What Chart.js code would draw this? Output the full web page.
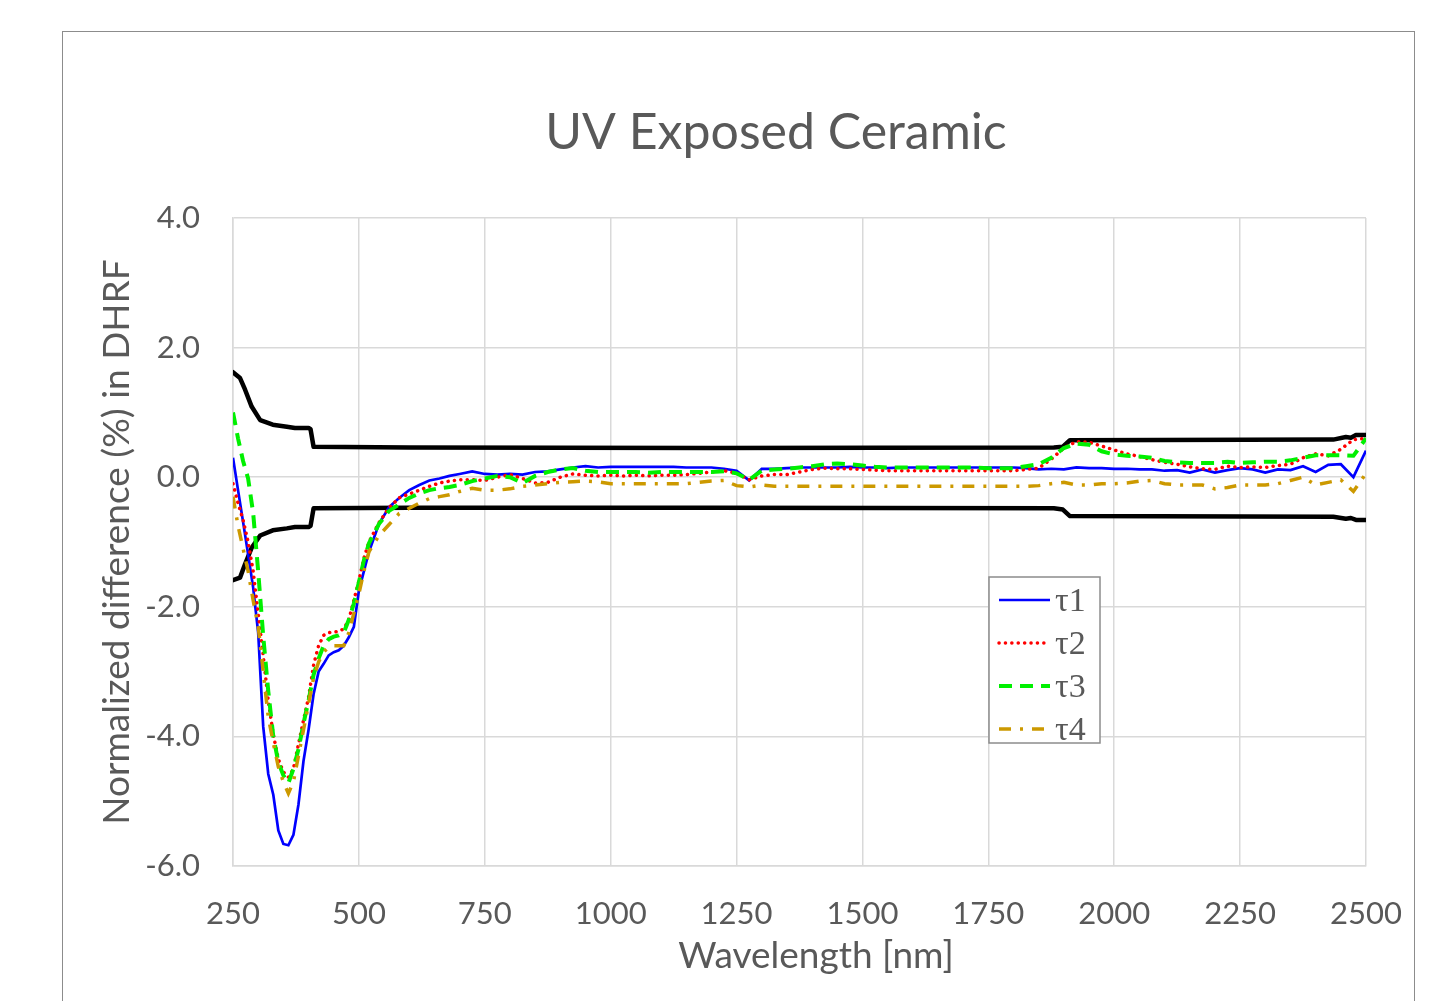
<!DOCTYPE html>
<html>
<head>
<meta charset="utf-8">
<script src="https://cdn.jsdelivr.net/npm/chart.js@4.4.1/dist/chart.umd.min.js"></script>
<style>
html, body { margin: 0; padding: 0; background: #fff; overflow: hidden; }
#frame { position: absolute; left: 62px; top: 31px; width: 1353px; height: 1010px; border: 1.5px solid #8c8c8c; box-sizing: border-box; }
#c { position: absolute; left: 0; top: 0; }
</style>
</head>
<body>
<div id="frame"></div>
<canvas id="c" width="1434" height="1001"></canvas>
<script>
// wavelengths (nm) shared by the four tau series
var wavelengths = [250, 260, 270, 280, 290, 300, 310, 320, 330, 340, 350, 360, 370, 380, 390, 400, 410, 420, 430, 440,
    450, 460, 470, 480, 490, 500, 510, 520, 540, 560, 580, 600, 620, 640, 660, 680, 700,
    725, 750, 775, 800, 825, 850, 875, 900, 925, 950, 975, 1000,
    1025, 1050, 1075, 1100, 1125, 1150, 1175, 1200, 1225, 1250, 1275, 1300,
    1325, 1350, 1375, 1400, 1425, 1450, 1475, 1500, 1525, 1550, 1575, 1600,
    1625, 1650, 1675, 1700, 1725, 1750, 1775, 1800, 1825, 1850, 1875, 1900,
    1925, 1950, 1975, 2000, 2025, 2050, 2075, 2100, 2125, 2150, 2175, 2200,
    2225, 2250, 2275, 2300, 2325, 2350, 2375, 2400, 2425, 2450, 2475, 2500];

var tau1 = [0.30, -0.2, -0.69, -1.19, -1.7, -2.4, -3.85, -4.58, -4.9, -5.45, -5.66, -5.68, -5.52, -5.05, -4.38, -3.9, -3.35, -3.0, -2.88, -2.75,
    -2.7, -2.67, -2.6, -2.47, -2.31, -1.75, -1.45, -1.15, -0.72, -0.46, -0.32, -0.2, -0.12, -0.05, -0.02, 0.02, 0.05,
    0.09, 0.05, 0.04, 0.05, 0.04, 0.08, 0.09, 0.12, 0.15, 0.17, 0.15, 0.16,
    0.16, 0.16, 0.16, 0.16, 0.16, 0.15, 0.15, 0.15, 0.13, 0.1, -0.05, 0.13,
    0.13, 0.14, 0.15, 0.15, 0.15, 0.15, 0.16, 0.15, 0.15, 0.14, 0.15, 0.15,
    0.15, 0.15, 0.15, 0.15, 0.15, 0.15, 0.15, 0.15, 0.14, 0.12, 0.13, 0.12,
    0.15, 0.14, 0.14, 0.13, 0.13, 0.12, 0.12, 0.1, 0.11, 0.07, 0.12, 0.07,
    0.11, 0.14, 0.12, 0.07, 0.12, 0.11, 0.17, 0.08, 0.19, 0.2, 0.0, 0.41];

var tau2 = [-0.1, -0.4, -0.66, -1.0, -1.45, -2.1, -2.75, -3.45, -3.97, -4.35, -4.55, -4.63, -4.5, -4.12, -3.75, -3.4, -2.9, -2.6, -2.44, -2.4,
    -2.39, -2.38, -2.34, -2.2, -1.9, -1.6, -1.25, -1.0, -0.7, -0.47, -0.32, -0.26, -0.2, -0.14, -0.09, -0.06, -0.04,
    -0.04, -0.05, 0.0, 0.04, -0.02, -0.09, -0.08, 0.0, 0.05, 0.03, 0.02, 0.03,
    0.02, 0.03, 0.02, 0.03, 0.03, 0.04, 0.06, 0.08, 0.1, 0.06, -0.04, 0.02,
    0.04, 0.04, 0.08, 0.12, 0.14, 0.13, 0.13, 0.12, 0.11, 0.1, 0.1, 0.1,
    0.1, 0.1, 0.1, 0.1, 0.1, 0.1, 0.1, 0.1, 0.12, 0.14, 0.28, 0.45,
    0.55, 0.54, 0.48, 0.42, 0.36, 0.32, 0.27, 0.23, 0.2, 0.16, 0.13, 0.12,
    0.17, 0.15, 0.16, 0.15, 0.18, 0.2, 0.3, 0.36, 0.33, 0.43, 0.58, 0.6];

var tau3 = [1.0, 0.6, 0.25, -0.02, -0.55, -1.45, -2.45, -3.3, -4.0, -4.4, -4.6, -4.72, -4.5, -4.2, -3.8, -3.45, -3.05, -2.8, -2.6, -2.5,
    -2.46, -2.44, -2.4, -2.2, -1.95, -1.62, -1.28, -1.02, -0.72, -0.52, -0.42, -0.32, -0.25, -0.2, -0.17, -0.15, -0.12,
    -0.06, -0.02, 0.02, 0.0, -0.09, 0.02, 0.08, 0.12, 0.14, 0.1, 0.08, 0.08,
    0.08, 0.08, 0.07, 0.08, 0.08, 0.08, 0.08, 0.08, 0.09, 0.06, -0.04, 0.1,
    0.12, 0.13, 0.15, 0.17, 0.2, 0.21, 0.2, 0.18, 0.16, 0.15, 0.15, 0.15,
    0.15, 0.15, 0.15, 0.15, 0.15, 0.14, 0.14, 0.14, 0.17, 0.2, 0.3, 0.45,
    0.52, 0.5, 0.4, 0.35, 0.33, 0.32, 0.3, 0.25, 0.23, 0.22, 0.22, 0.22,
    0.24, 0.22, 0.23, 0.24, 0.24, 0.26, 0.3, 0.34, 0.34, 0.34, 0.33, 0.6];

var tau4 = [-0.3, -0.75, -1.1, -1.45, -1.9, -2.3, -3.0, -3.7, -4.1, -4.47, -4.7, -4.88, -4.7, -4.3, -3.9, -3.5, -3.1, -2.85, -2.7, -2.62,
    -2.6, -2.6, -2.6, -2.4, -2.1, -1.8, -1.45, -1.15, -0.9, -0.73, -0.56, -0.48, -0.4, -0.33, -0.3, -0.27, -0.22,
    -0.17, -0.2, -0.2, -0.18, -0.14, -0.12, -0.1, -0.08, -0.07, -0.06, -0.07, -0.1,
    -0.1, -0.1, -0.1, -0.1, -0.1, -0.1, -0.08, -0.06, -0.05, -0.13, -0.15, -0.12,
    -0.14, -0.14, -0.14, -0.14, -0.14, -0.14, -0.14, -0.14, -0.14, -0.14, -0.14, -0.14,
    -0.14, -0.14, -0.14, -0.14, -0.14, -0.14, -0.14, -0.14, -0.14, -0.13, -0.1, -0.08,
    -0.12, -0.12, -0.1, -0.1, -0.09, -0.06, -0.05, -0.1, -0.12, -0.12, -0.12, -0.18,
    -0.16, -0.12, -0.12, -0.12, -0.1, -0.05, 0.0, -0.12, -0.08, -0.04, -0.22, 0.06];

// uncertainty envelope (black lines)
var boundWavelengths = [250, 264, 274, 287, 304, 329, 357, 373, 400, 404, 410, 600, 1200, 1880, 1898, 1912, 2435, 2460, 2470, 2480, 2500];
var upperBound = [1.62, 1.53, 1.35, 1.09, 0.88, 0.81, 0.78, 0.76, 0.76, 0.74, 0.47, 0.46, 0.45, 0.46, 0.47, 0.57, 0.58, 0.62, 0.61, 0.65, 0.65];
var lowerBound = [-1.59, -1.55, -1.34, -1.09, -0.9, -0.82, -0.79, -0.77, -0.77, -0.75, -0.48, -0.47, -0.47, -0.48, -0.5, -0.6, -0.61, -0.64, -0.63, -0.66, -0.66];

var xTicks = [250, 500, 750, 1000, 1250, 1500, 1750, 2000, 2250, 2500];
var yTicks = [-6, -4, -2, 0, 2, 4];

function pts(xs, ys) {
    return xs.map(function (x, i) { return { x: x, y: ys[i] }; });
}

var textGrey = '#595959';
var font = 'Lato, "Open Sans", sans-serif';
var chartTitle = 'UV Exposed Ceramic';
var xTitle = 'Wavelength [nm]';

// titles sit centred over the outer frame, not over the plot area
var titlePlugin = {
    id: 'frameTitle',
    afterDraw: function (chart) {
        var ctx = chart.ctx;
        ctx.save();
        ctx.fillStyle = textGrey;
        ctx.textAlign = 'center';
        ctx.textBaseline = 'middle';
        ctx.font = '50px ' + font;
        ctx.fillText(chartTitle, 776, 133);
        ctx.font = '37px ' + font;
        ctx.fillText(xTitle, 816, 956);
        ctx.restore();
    }
};

var legendPlugin = {
    id: 'boxLegend',
    afterDraw: function (chart) {
        var ctx = chart.ctx;
        var left = 989, top = 577, w = 111, h = 166;
        ctx.save();
        ctx.fillStyle = '#fff';
        ctx.fillRect(left, top, w, h);
        ctx.strokeStyle = '#8c8c8c';
        ctx.lineWidth = 1.5;
        ctx.strokeRect(left, top, w, h);
        var items = chart.data.datasets.filter(function (d) { return d.inLegend; });
        items.forEach(function (d, i) {
            var y = top + 23 + i * 43;
            ctx.beginPath();
            ctx.setLineDash(d.borderDash || []);
            ctx.lineCap = d.borderCapStyle || 'butt';
            ctx.strokeStyle = d.borderColor;
            ctx.lineWidth = d.borderWidth;
            ctx.moveTo(999, y);
            ctx.lineTo(1050, y);
            ctx.stroke();
            ctx.setLineDash([]);
            ctx.fillStyle = textGrey;
            ctx.font = '34px "Liberation Serif", "Times New Roman", serif';
            ctx.textBaseline = 'middle';
            ctx.textAlign = 'left';
            ctx.fillText(d.label, 1055, y + 2);
        });
        ctx.restore();
    }
};

new Chart(document.getElementById('c'), {
    type: 'line',
    data: {
        datasets: [
            { label: 'τ1', data: pts(wavelengths, tau1), borderColor: '#0000ff', borderWidth: 2.7, order: 4, inLegend: true },
            { label: 'τ2', data: pts(wavelengths, tau2), borderColor: '#ff0000', borderWidth: 3.5, borderDash: [0.1, 6.3], borderCapStyle: 'round', order: 3, inLegend: true },
            { label: 'τ3', data: pts(wavelengths, tau3), borderColor: '#00f000', borderWidth: 4, borderDash: [13, 8], order: 2, inLegend: true },
            { label: 'τ4', data: pts(wavelengths, tau4), borderColor: '#cc9900', borderWidth: 3.5, borderDash: [12, 9, 3, 9], order: 1, inLegend: true },
            { label: 'upper', data: pts(boundWavelengths, upperBound), borderColor: '#000', borderWidth: 4.5, borderCapStyle: 'round', borderJoinStyle: 'round', order: 5 },
            { label: 'lower', data: pts(boundWavelengths, lowerBound), borderColor: '#000', borderWidth: 4.5, borderCapStyle: 'round', borderJoinStyle: 'round', order: 5 }
        ]
    },
    options: {
        responsive: false,
        animation: false,
        devicePixelRatio: 1,
        elements: { point: { radius: 0 }, line: { tension: 0, fill: false } },
        layout: { padding: { left: 88, right: 68, top: 218, bottom: 20 } },
        plugins: {
            legend: { display: false },
            tooltip: { enabled: false },
            title: { display: false }
        },
        scales: {
            x: {
                type: 'linear',
                min: 250,
                max: 2500,
                afterBuildTicks: function (s) { s.ticks = xTicks.map(function (v) { return { value: v }; }); },
                afterFit: function (s) { s.height = 1001 - 866 - 20; },
                ticks: { color: textGrey, font: { family: font, size: 31 }, padding: 29, maxRotation: 0, callback: function (v) { return String(v); } },
                grid: { color: '#d9d9d9', lineWidth: 1.5, drawTicks: false },
                border: { color: '#d9d9d9', width: 1.5 },
                title: { display: false }
            },
            y: {
                min: -6,
                max: 4,
                afterBuildTicks: function (s) { s.ticks = yTicks.map(function (v) { return { value: v }; }); },
                afterFit: function (s) { s.width = 233 - 88; },
                ticks: { color: textGrey, font: { family: font, size: 31 }, padding: 33, callback: function (v) { return v.toFixed(1); } },
                grid: { color: '#d9d9d9', lineWidth: 1.5, drawTicks: false },
                border: { color: '#d9d9d9', width: 1.5 },
                title: { display: true, text: 'Normalized difference (%) in DHRF', color: textGrey, font: { family: font, size: 37, lineHeight: 1.2 }, padding: { top: 7, bottom: 0 } }
            }
        }
    },
    plugins: [titlePlugin, legendPlugin]
});
</script>
</body>
</html>
